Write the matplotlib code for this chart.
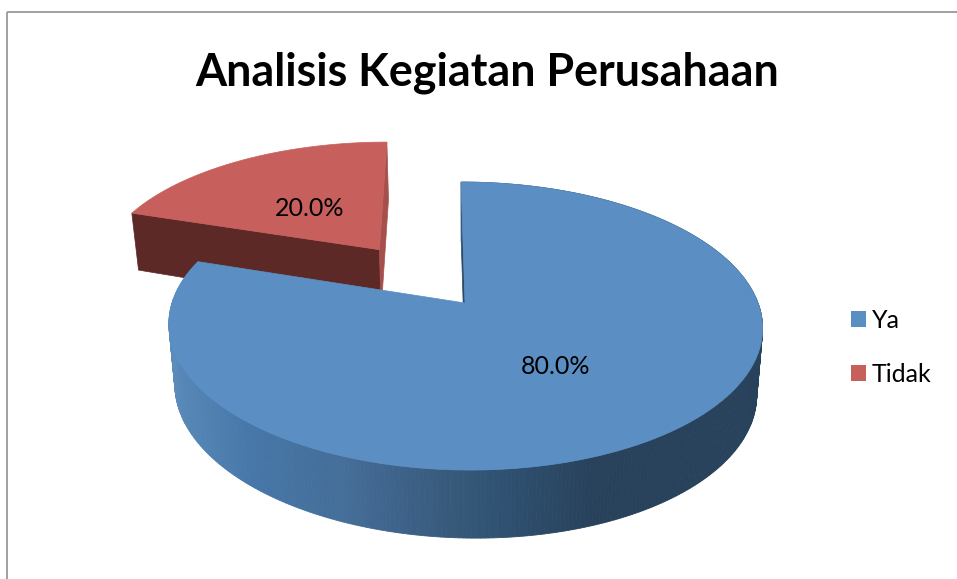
import numpy as np
import matplotlib
matplotlib.use('Agg')
import matplotlib.pyplot as plt
from matplotlib.patches import Patch, Polygon, Rectangle

title = 'Analisis Kegiatan Perusahaan'
labels = ['Ya', 'Tidak']
shares = [80.0, 20.0]
pct_text = ['80.0%', '20.0%']

plt.rcParams['font.family'] = ['Lato', 'DejaVu Sans']

top_blue = '#5b8fc4'
top_red = '#c7605c'
dark_red = '#5c2927'
side_red = '#a5504d'
dark_blue = '#2a4a68'

# shade of the outer wall, by position on the picture
wall_x = [170, 183, 250, 350, 416, 466, 510, 593, 770]
wall_rgb = np.array([[0x5c, 0x8c, 0xbb], [0x55, 0x86, 0xb5], [0x46, 0x77, 0xa8], [0x45, 0x6d, 0x97],
                     [0x3c, 0x5f, 0x85], [0x35, 0x58, 0x78], [0x2f, 0x50, 0x70], [0x28, 0x42, 0x5c],
                     [0x28, 0x42, 0x5c]]) / 255

# perspective of the pie plane
cx, cy = 468, 326
a, b = 293, 144
k = 0.16
lift = 23
skew = -5
shift = -3


def project(x, y):
    d = 1 + k * y
    return (a * x + skew * y + shift) / d, (b * y + lift) / d


def top_pts(x, y):
    X, Y = project(x, y)
    return np.column_stack([cx + X, cy - Y])


def low_pts(x, y):
    # bottom of the slab: drop is a bit larger toward the viewer
    X, Y = project(x, y)
    drop = 63.7 - 0.03 * Y + 0.01 * X
    return np.column_stack([cx + 0.98 * X, cy - Y + drop])


fig = plt.figure(figsize=(9.57, 5.79), dpi=100)
ax = fig.add_axes([0, 0, 1, 1])
ax.set_xlim(0, 957)
ax.set_ylim(579, 0)
ax.axis('off')

ax.add_patch(Rectangle((6.5, 11.5), 1000, 700, fill=False, ec='#a0a0a0', lw=1.4))

# slice angles, clockwise from the top
edges = 90 - 360 * np.cumsum([0] + shares) / np.sum(shares)
blue_t = np.radians(np.linspace(edges[0], edges[1], 400))
red_t = np.radians(np.linspace(edges[1], edges[2], 80))
red_mid = np.radians((edges[1] + edges[2]) / 2)

# red slice is pulled out
ex, ey = 0.50 * np.cos(red_mid) - 0.011, 0.50 * np.sin(red_mid)
rx, ry = ex + np.cos(red_t), ey + np.sin(red_t)
apex_x, apex_y = np.array([ex]), np.array([ey])

# wall along the 162 deg edge and the 90 deg edge
end = top_pts(rx[:1], ry[:1])
end2 = top_pts(rx[-1:], ry[-1:])
ap = top_pts(apex_x, apex_y)
ap_l = low_pts(apex_x, apex_y)
ax.add_patch(Polygon(np.vstack([ap, end, low_pts(rx[:1], ry[:1]), ap_l]), fc=dark_red, ec=dark_red, lw=0.5))
ax.add_patch(Polygon(np.vstack([ap, end2, low_pts(rx[-1:], ry[-1:]), ap_l]), fc=side_red, ec=side_red, lw=0.5))
ax.add_patch(Polygon(np.vstack([ap, top_pts(rx, ry)]), fc=top_red, ec=top_red, lw=0.5))

# blue slice
bx, by = np.cos(blue_t), np.sin(blue_t)
zero = np.array([0.0])
b_ap = top_pts(zero, zero)
b_ap_l = low_pts(zero, zero)
ax.add_patch(Polygon(np.vstack([b_ap, top_pts(bx[:1], by[:1]), low_pts(bx[:1], by[:1]), b_ap_l]),
                     fc=dark_blue, ec=dark_blue, lw=0.5))

up = top_pts(bx, by)
lo = low_pts(bx, by)
for i in range(len(bx) - 1):
    col = [np.interp(up[i, 0], wall_x, wall_rgb[:, c]) for c in range(3)]
    ax.add_patch(Polygon(np.vstack([up[i], up[i + 1], lo[i + 1], lo[i]]), fc=col, ec=col, lw=0.6))

ax.add_patch(Polygon(np.vstack([b_ap, up]), fc=top_blue, ec=top_blue, lw=0.5))

ax.text(487, 73, title, fontsize=32.3, fontweight='bold', ha='center', va='center', color='black')
ax.text(556, 367, pct_text[0], fontsize=18, ha='center', va='center', color='black')
ax.text(310, 208, pct_text[1], fontsize=18, ha='center', va='center', color='black')

handles = [Patch(fc=top_blue, ec='none'), Patch(fc=top_red, ec='none')]
ax.legend(handles, labels, loc='upper left', bbox_to_anchor=(838.5, 296), bbox_transform=ax.transData,
          frameon=False, fontsize=18, handlelength=0.6, handleheight=0.6, handletextpad=0.24,
          labelspacing=1.24, borderpad=0.5, borderaxespad=0)

fig.savefig('out.png', dpi=100)
